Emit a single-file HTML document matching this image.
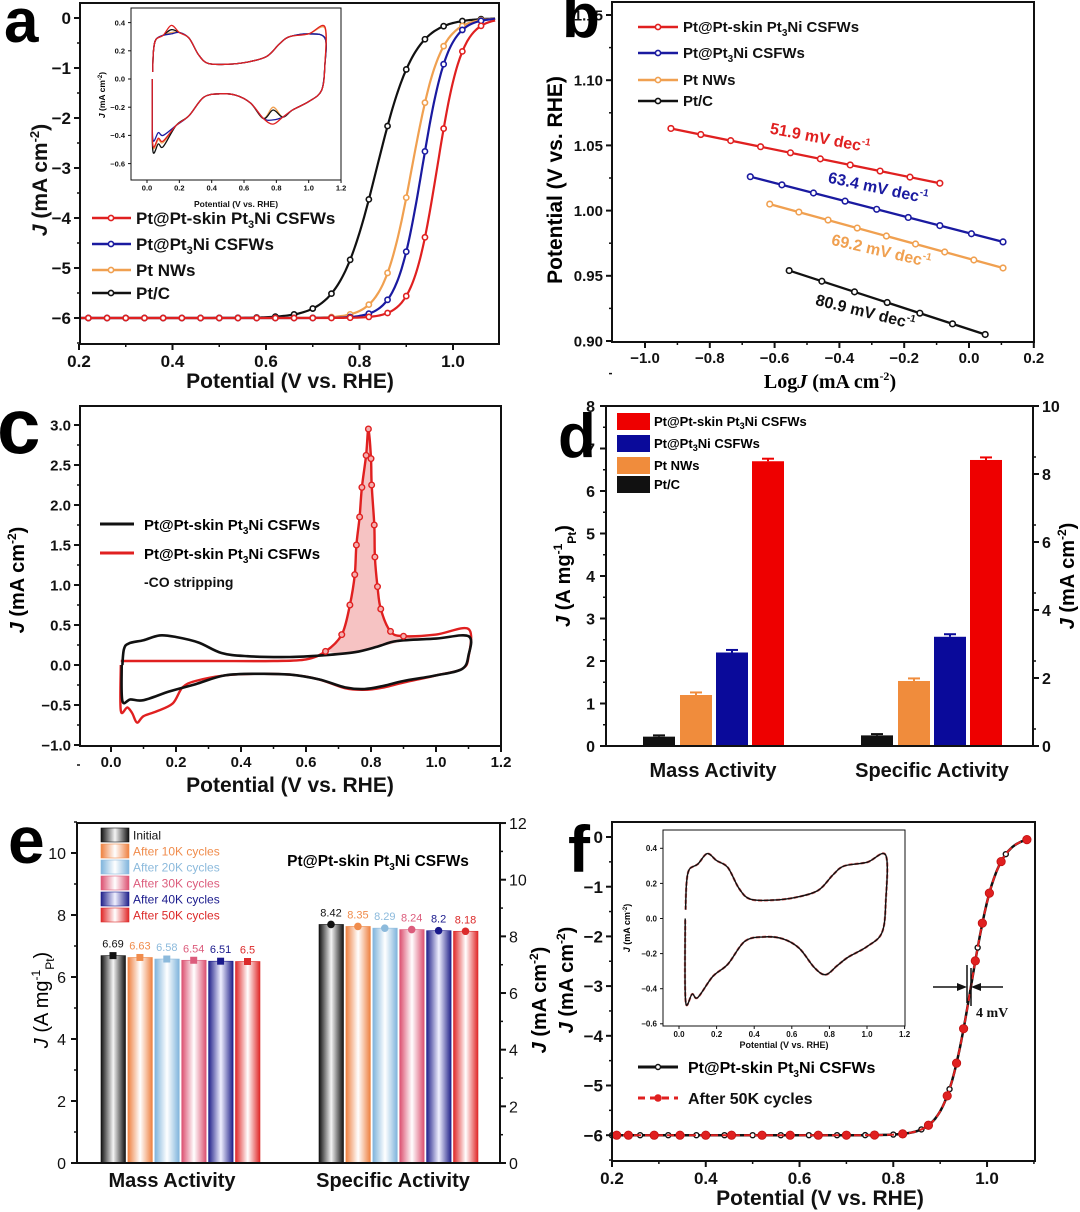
<!DOCTYPE html>
<html><head><meta charset="utf-8">
<style>
html,body{margin:0;padding:0;background:#fff;}
svg{display:block;font-family:"Liberation Sans",Arial,sans-serif;}
</style></head>
<body>
<svg id="s" width="1080" height="1212" viewBox="0 0 1080 1212" xmlns="http://www.w3.org/2000/svg">
<defs>
<linearGradient id="gk" x1="0" x2="1"><stop offset="0" stop-color="#111"/><stop offset="0.5" stop-color="#f4f4f4"/><stop offset="1" stop-color="#111"/></linearGradient>
<linearGradient id="go" x1="0" x2="1"><stop offset="0" stop-color="#ee8040"/><stop offset="0.5" stop-color="#fff"/><stop offset="1" stop-color="#ee8040"/></linearGradient>
<linearGradient id="gb" x1="0" x2="1"><stop offset="0" stop-color="#7fb4dc"/><stop offset="0.5" stop-color="#fff"/><stop offset="1" stop-color="#7fb4dc"/></linearGradient>
<linearGradient id="gp" x1="0" x2="1"><stop offset="0" stop-color="#dc5070"/><stop offset="0.5" stop-color="#fff"/><stop offset="1" stop-color="#dc5070"/></linearGradient>
<linearGradient id="gn" x1="0" x2="1"><stop offset="0" stop-color="#22228a"/><stop offset="0.5" stop-color="#f0f0ff"/><stop offset="1" stop-color="#22228a"/></linearGradient>
<linearGradient id="gr" x1="0" x2="1"><stop offset="0" stop-color="#e02828"/><stop offset="0.5" stop-color="#fff"/><stop offset="1" stop-color="#e02828"/></linearGradient>
</defs>
<g id="g"></g>
</svg>
<script>
var G=document.getElementById('g'),out='';
function a(s){out+=s;}
function txt(x,y,t,o){o=o||{};a('<text x="'+x+'" y="'+y+'" font-size="'+(o.fs||15)+'" font-weight="'+(o.fw||'bold')+'" fill="'+(o.c||'#111')+'" text-anchor="'+(o.an||'middle')+'"'+(o.fam?' font-family="'+o.fam+'"':'')+'>'+t+'</text>');}
function axis(b,xt,xm,yt,ym,o){o=o||{};
 a('<rect x="'+b[0]+'" y="'+b[1]+'" width="'+(b[2]-b[0])+'" height="'+(b[3]-b[1])+'" fill="none" stroke="#111" stroke-width="'+(o.sw||2)+'"/>');
 var fs=o.fs||15;
 xt.forEach(function(t){var x=xm(t);a('<line x1="'+x+'" y1="'+b[3]+'" x2="'+x+'" y2="'+(b[3]+(o.tl||6))+'" stroke="#111" stroke-width="'+(o.sw||2)+'"/>');
  txt(x,b[3]+fs+(o.xg||6),o.xf?o.xf(t):t,{fs:fs});
  if(o.mx){var x2=xm(t+o.mx);if(x2<b[2])a('<line x1="'+x2+'" y1="'+b[3]+'" x2="'+x2+'" y2="'+(b[3]+3)+'" stroke="#111" stroke-width="1.5"/>');}});
 yt.forEach(function(t){var y=ym(t);a('<line x1="'+(b[0]-(o.tl||6))+'" y1="'+y+'" x2="'+b[0]+'" y2="'+y+'" stroke="#111" stroke-width="'+(o.sw||2)+'"/>');
  txt(b[0]-(o.tl||6)-3,y+fs*0.36,o.yf?o.yf(t):t,{fs:fs,an:'end'});
  if(o.my){var y2=ym(t+o.my);if(y2>b[1])a('<line x1="'+(b[0]-3)+'" y1="'+y2+'" x2="'+b[0]+'" y2="'+y2+'" stroke="#111" stroke-width="1.5"/>');}});
}
function cr(P){var d='M'+P[0][0].toFixed(1)+','+P[0][1].toFixed(1);
 for(var i=0;i<P.length-1;i++){var p0=P[i-1]||P[i],p1=P[i],p2=P[i+1],p3=P[i+2]||p2;
  d+='C'+(p1[0]+(p2[0]-p0[0])/6).toFixed(1)+','+(p1[1]+(p2[1]-p0[1])/6).toFixed(1)+' '+(p2[0]-(p3[0]-p1[0])/6).toFixed(1)+','+(p2[1]-(p3[1]-p1[1])/6).toFixed(1)+' '+p2[0].toFixed(1)+','+p2[1].toFixed(1);}
 return d;}
function mp(pts,xm,ym){return pts.map(function(p){return [xm(p[0]),ym(p[1])];});}
function fmt1(t){return t<0?'\u2212'+(-t).toFixed(1):t.toFixed(1);}
function fmt2(t){return t.toFixed(2);}
function fmt0(t){return t<0?'\u2212'+(-t):''+t;}
function letter(x,y,t,fs){a('<text x="'+x+'" y="'+y+'" font-size="'+fs+'" font-weight="bold" fill="#000">'+t+'</text>');}
function cvShape(k){k=k||{};var pk=k.pk||0.37,lo=k.lo||-0.32,end=k.end||0.36,hs=k.hs||0.28,bot=k.bot||-0.45;
 return [[0.035,0.05],[0.04,0.2],[0.055,hs],[0.1,0.31],[0.15,pk],[0.2,0.33],[0.26,0.29],[0.32,0.17],[0.38,0.11],[0.5,0.105],[0.62,0.12],[0.74,0.16],[0.82,0.25],[0.88,0.3],[1.0,0.32],[1.1,end],[1.1,0.1],[1.08,-0.08],[1.0,-0.16],[0.9,-0.22],[0.84,-0.27],[0.78,lo],[0.72,-0.28],[0.64,-0.17],[0.55,-0.115],[0.45,-0.105],[0.35,-0.13],[0.26,-0.26],[0.18,-0.33],[0.1,bot],[0.07,bot+0.02],[0.035,bot-0.02],[0.033,0.0]];}
// ========== Panel a ==========
(function(){var b=[80,3,499,344];var xm=function(v){return 79+(v-0.2)*467.5},ym=function(j){return 18-j*50};
 var cols=[['#111',0.837,0.04],['#f0a050',0.912,0.03],['#1a1aa0',0.934,0.027],['#e02020',0.966,0.026]];
 cols.forEach(function(c){var P=[];for(var v=0.2;v<=1.095;v+=0.01){var J=-6/(1+Math.exp((v-c[1])/c[2]));P.push([v,J]);}
  a('<path d="'+cr(mp(P,xm,ym))+'" fill="none" stroke="'+c[0]+'" stroke-width="2.2"/>');
  for(var v=0.22;v<=1.09;v+=0.04){var J=-6/(1+Math.exp((v-c[1])/c[2]));a('<circle cx="'+xm(v)+'" cy="'+ym(J)+'" r="2.6" fill="#fff" stroke="'+c[0]+'" stroke-width="1.6"/>');}
 });
 axis(b,[0.2,0.4,0.6,0.8,1.0],xm,[0,-1,-2,-3,-4,-5,-6],ym,{fs:17,xf:fmt1,yf:fmt0,mx:0.1,my:-0.5});
 letter(4,42,'a',62);
 txt(290,388,'Potential (V vs. RHE)',{fs:21});
 a('<text transform="translate(47,180) rotate(-90)" font-size="21" font-weight="bold" text-anchor="middle" fill="#111"><tspan font-style="italic">J</tspan> (mA cm<tspan font-size="13" dy="-8">-2</tspan><tspan dy="8">)</tspan></text>');
 var ixm=function(v){return 147+v*161.7},iym=function(j){return 79-j*141};
 a('<rect x="131" y="8" width="210" height="172" fill="#fff"/>');
 var ic=[['#f0a050',{pk:0.33,lo:-0.2,end:0.36,bot:-0.45}],['#111',{pk:0.35,lo:-0.22,end:0.29,bot:-0.48}],['#1a1aa0',{pk:0.32,lo:-0.29,end:0.29,bot:-0.4}],['#e02020',{pk:0.38,lo:-0.32,end:0.37,bot:-0.44}]];
 ic.forEach(function(c){a('<path d="'+cr(mp(cvShape(c[1]),ixm,iym))+'" fill="none" stroke="'+c[0]+'" stroke-width="1.3"/>');});
 axis([131,8,341,180],[0,0.2,0.4,0.6,0.8,1.0,1.2],ixm,[0.4,0.2,0,-0.2,-0.4,-0.6],iym,{fs:7.5,sw:1,tl:3,xg:3,xf:fmt1,yf:fmt1});
 txt(236,207,'Potential (V vs. RHE)',{fs:8.5});
 a('<text transform="translate(105,95) rotate(-90)" font-size="8.5" font-weight="bold" text-anchor="middle"><tspan font-style="italic">J</tspan> (mA cm<tspan font-size="6" dy="-3">-2</tspan><tspan dy="3">)</tspan></text>');
 var L=[['#e02020','Pt@Pt-skin Pt<tspan font-size="11" dy="4">3</tspan><tspan dy="-4">Ni CSFWs</tspan>',218],['#1a1aa0','Pt@Pt<tspan font-size="11" dy="4">3</tspan><tspan dy="-4">Ni CSFWs</tspan>',244],['#f0a050','Pt NWs',270],['#111','Pt/C',293]];
 L.forEach(function(l){a('<line x1="92" y1="'+l[2]+'" x2="131" y2="'+l[2]+'" stroke="'+l[0]+'" stroke-width="2.5"/><circle cx="111" cy="'+l[2]+'" r="2.6" fill="#fff" stroke="'+l[0]+'" stroke-width="1.6"/>');a('<text x="136" y="'+(l[2]+6)+'" font-size="17" font-weight="bold" fill="#111">'+l[1]+'</text>');});
})();
// ========== Panel b ==========
(function(){var b=[612,2,1034,342];var xm=function(v){return 969+v*324},ym=function(p){return 341-(p-0.9)*1304};
 axis(b,[-1.0,-0.8,-0.6,-0.4,-0.2,0.0,0.2],xm,[1.15,1.10,1.05,1.00,0.95,0.90],ym,{fs:15,xf:fmt1,yf:fmt2,mx:0.1,my:-0.025});
 var S=[['#e02020',-0.92,1.063,-0.09,1.021],['#1a1aa0',-0.675,1.026,0.105,0.976],['#f0a050',-0.615,1.005,0.105,0.956],['#111',-0.555,0.954,0.05,0.905]];
 S.forEach(function(s){a('<line x1="'+xm(s[1])+'" y1="'+ym(s[2])+'" x2="'+xm(s[3])+'" y2="'+ym(s[4])+'" stroke="'+s[0]+'" stroke-width="2.3"/>');
  var n=Math.round((s[3]-s[1])/0.095);for(var i=0;i<=n;i++){var t=i/n;a('<circle cx="'+xm(s[1]+t*(s[3]-s[1]))+'" cy="'+ym(s[2]+t*(s[4]-s[2]))+'" r="2.8" fill="#fff" stroke="'+s[0]+'" stroke-width="1.6"/>');}});
 function lab(x,y,r,c,t){a('<text transform="translate('+x+','+y+') rotate('+r+')" font-size="16" font-weight="bold" fill="'+c+'" text-anchor="middle">'+t+' mV dec<tspan font-size="10" dy="-7">-1</tspan></text>');}
 lab(819,143,11,'#e02020','51.9');lab(877,193,12,'#1a1aa0','63.4');lab(880,256,13,'#f0a050','69.2');lab(864,317,14,'#111','80.9');
 var L=[['#e02020','Pt@Pt-skin Pt<tspan font-size="10" dy="4">3</tspan><tspan dy="-4">Ni CSFWs</tspan>',27],['#1a1aa0','Pt@Pt<tspan font-size="10" dy="4">3</tspan><tspan dy="-4">Ni CSFWs</tspan>',53],['#f0a050','Pt NWs',80],['#111','Pt/C',101]];
 L.forEach(function(l){a('<line x1="638" y1="'+l[2]+'" x2="678" y2="'+l[2]+'" stroke="'+l[0]+'" stroke-width="2.5"/><circle cx="658" cy="'+l[2]+'" r="2.6" fill="#fff" stroke="'+l[0]+'" stroke-width="1.6"/>');a('<text x="683" y="'+(l[2]+5)+'" font-size="15" font-weight="bold" fill="#111">'+l[1]+'</text>');});
 letter(562,37,'b',62);
 a('<text x="830" y="388" font-size="20" font-weight="bold" text-anchor="middle" font-family="Liberation Serif,serif">Log<tspan font-style="italic">J</tspan> (mA cm<tspan font-size="12" dy="-8">-2</tspan><tspan dy="8">)</tspan></text>');
 a('<text transform="translate(562,180) rotate(-90)" font-size="21" font-weight="bold" text-anchor="middle">Potential (V vs. RHE)</text>');
})();
// ========== Panel c ==========
(function(){var b=[80,406,501,746];var xm=function(v){return 111+v*325},ym=function(j){return 665-j*80};
 var blk=[[0.035,0.0],[0.04,0.2],[0.055,0.27],[0.1,0.31],[0.15,0.37],[0.2,0.35],[0.27,0.28],[0.34,0.15],[0.42,0.11],[0.55,0.1],[0.65,0.12],[0.75,0.16],[0.82,0.23],[0.88,0.3],[1.0,0.33],[1.1,0.36],[1.1,0.12],[1.08,-0.05],[1.0,-0.13],[0.9,-0.2],[0.84,-0.26],[0.78,-0.3],[0.72,-0.28],[0.64,-0.18],[0.55,-0.12],[0.45,-0.11],[0.35,-0.13],[0.26,-0.24],[0.18,-0.33],[0.1,-0.44],[0.06,-0.43],[0.035,-0.45],[0.033,0.0]];
 var pk=[[0.6,0.07],[0.66,0.17],[0.71,0.38],[0.735,0.75],[0.75,1.13],[0.755,1.5],[0.765,1.85],[0.772,2.22],[0.785,2.62],[0.792,2.95],[0.8,2.58],[0.802,2.25],[0.81,1.75],[0.812,1.35],[0.82,0.98],[0.83,0.7],[0.86,0.42],[0.9,0.36],[1.0,0.38],[1.1,0.45]];
 var fl=mp(pk.slice(1,19),xm,ym);var fd=cr(fl)+'L'+xm(0.9)+','+ym(0.3)+'L'+xm(0.8)+','+ym(0.2)+'L'+xm(0.7)+','+ym(0.14)+'Z';
 a('<path d="'+fd+'" fill="#f4b8b8" opacity="0.85"/>');
 var red=[[0.03,0.05],[0.3,0.05],[0.5,0.05]].concat(pk).concat([[1.1,0.1],[1.08,-0.05],[1.0,-0.13],[0.9,-0.22],[0.84,-0.28],[0.78,-0.31],[0.72,-0.29],[0.64,-0.18],[0.55,-0.12],[0.45,-0.11],[0.35,-0.13],[0.26,-0.2],[0.22,-0.28],[0.19,-0.48],[0.14,-0.58],[0.1,-0.64],[0.08,-0.72],[0.065,-0.6],[0.05,-0.53],[0.03,-0.57],[0.03,0.0]]);
 a('<path d="'+cr(mp(red,xm,ym))+'" fill="none" stroke="#e02020" stroke-width="2.4"/>');
 a('<path d="'+cr(mp(blk,xm,ym))+'" fill="none" stroke="#111" stroke-width="2.6"/>');
 pk.forEach(function(p){if(p[0]>=0.66&&p[0]<=0.9)a('<circle cx="'+xm(p[0])+'" cy="'+ym(p[1])+'" r="2.8" fill="#f4b0b0" stroke="#e02020" stroke-width="1.4"/>');});
 axis(b,[0,0.2,0.4,0.6,0.8,1.0,1.2],xm,[3.0,2.5,2.0,1.5,1.0,0.5,0,-0.5,-1.0],ym,{fs:15,xf:fmt1,yf:fmt1,mx:0.1,my:-0.25});
 a('<line x1="100" y1="524" x2="134" y2="524" stroke="#111" stroke-width="3"/><line x1="100" y1="553" x2="134" y2="553" stroke="#e02020" stroke-width="3"/>');
 a('<text x="144" y="530" font-size="15" font-weight="bold">Pt@Pt-skin Pt<tspan font-size="10" dy="4">3</tspan><tspan dy="-4">Ni CSFWs</tspan></text>');
 a('<text x="144" y="559" font-size="15" font-weight="bold">Pt@Pt-skin Pt<tspan font-size="10" dy="4">3</tspan><tspan dy="-4">Ni CSFWs</tspan></text>');
 txt(144,587,'-CO stripping',{fs:14,an:'start'});
 letter(-3,453,'c',78);
 txt(290,792,'Potential (V vs. RHE)',{fs:21});
 a('<text transform="translate(24,580) rotate(-90)" font-size="20" font-weight="bold" text-anchor="middle"><tspan font-style="italic">J</tspan> (mA cm<tspan font-size="12" dy="-8">-2</tspan><tspan dy="8">)</tspan></text>');
})();
// ========== Panel d ==========
(function(){var ym=function(v){return 746-v*42.5};
 var bars=[[643,0.22,'#111'],[680,1.2,'#f08c3c'],[716,2.2,'#0a0a9a'],[752,6.7,'#ee0000'],[861,0.25,'#111'],[898,1.53,'#f08c3c'],[934,2.57,'#0a0a9a'],[970,6.73,'#ee0000']];
 bars.forEach(function(r){var e=r[1]>1?0.06:0.03;a('<rect x="'+r[0]+'" y="'+ym(r[1])+'" width="32" height="'+(r[1]*42.5)+'" fill="'+r[2]+'"/>');
  a('<line x1="'+(r[0]+16)+'" y1="'+ym(r[1]+e)+'" x2="'+(r[0]+16)+'" y2="'+ym(r[1])+'" stroke="'+r[2]+'" stroke-width="2"/><line x1="'+(r[0]+10)+'" y1="'+ym(r[1]+e)+'" x2="'+(r[0]+22)+'" y2="'+ym(r[1]+e)+'" stroke="'+r[2]+'" stroke-width="2"/>');});
 a('<rect x="606" y="406" width="427" height="340" fill="none" stroke="#111" stroke-width="2"/>');
 for(var v=0;v<=8;v++){var y=ym(v);a('<line x1="600" y1="'+y+'" x2="606" y2="'+y+'" stroke="#111" stroke-width="2"/>');txt(595,y+6,''+v,{fs:16,an:'end'});if(v<8)a('<line x1="603" y1="'+ym(v+0.5)+'" x2="606" y2="'+ym(v+0.5)+'" stroke="#111" stroke-width="1.5"/>');}
 for(var v=0;v<=10;v+=2){var y=746-v*34;a('<line x1="1033" y1="'+y+'" x2="1039" y2="'+y+'" stroke="#111" stroke-width="2"/>');txt(1042,y+6,''+v,{fs:16,an:'start'});if(v<10)a('<line x1="1033" y1="'+(y-17)+'" x2="1036" y2="'+(y-17)+'" stroke="#111" stroke-width="1.5"/>');}
 var L=[['#ee0000','Pt@Pt-skin Pt<tspan font-size="9" dy="3">3</tspan><tspan dy="-3">Ni CSFWs</tspan>',413],['#0a0a9a','Pt@Pt<tspan font-size="9" dy="3">3</tspan><tspan dy="-3">Ni CSFWs</tspan>',435],['#f08c3c','Pt NWs',457],['#111','Pt/C',476]];
 L.forEach(function(l){a('<rect x="617" y="'+l[2]+'" width="33" height="17" fill="'+l[0]+'"/><text x="654" y="'+(l[2]+13)+'" font-size="13" font-weight="bold">'+l[1]+'</text>');});
 txt(713,777,'Mass Activity',{fs:20});txt(932,777,'Specific Activity',{fs:20});
 letter(558,457,'d',62);
 a('<text transform="translate(570,576) rotate(-90)" font-size="20" font-weight="bold" text-anchor="middle"><tspan font-style="italic">J</tspan> (A mg<tspan font-size="12" dy="-8">-1</tspan><tspan font-size="12" dy="14">Pt</tspan><tspan dy="-6">)</tspan></text>');
 a('<text transform="translate(1074,576) rotate(-90)" font-size="20" font-weight="bold" text-anchor="middle"><tspan font-style="italic">J</tspan> (mA cm<tspan font-size="12" dy="-8">-2</tspan><tspan dy="8">)</tspan></text>');
})();
// ========== Panel e ==========
(function(){var ym=function(v){return 1163-v*31},yr=function(v){return 1163-v*28.33};
 var g=['gk','go','gb','gp','gn','gr'],col=['#111','#f08c4c','#8cbadc','#dc5c7c','#1a1a8c','#dc2a2a'];
 var mv=[6.69,6.63,6.58,6.54,6.51,6.5],sv=[8.42,8.35,8.29,8.24,8.2,8.18],ml=['6.69','6.63','6.58','6.54','6.51','6.5'],sl=['8.42','8.35','8.29','8.24','8.2','8.18'];
 for(var i=0;i<6;i++){var x=101+i*26.9;a('<rect x="'+x+'" y="'+ym(mv[i])+'" width="24.5" height="'+(mv[i]*31)+'" fill="url(#'+g[i]+')" stroke="'+col[i]+'" stroke-width="0.6"/>');
  a('<rect x="'+(x+8.5)+'" y="'+(ym(mv[i])-3.5)+'" width="7" height="7" fill="'+col[i]+'"/>');
  txt(x+12,ym(mv[i])-8,ml[i],{fs:11,fw:'normal',c:col[i]});
  var x2=319+i*26.9;a('<rect x="'+x2+'" y="'+yr(sv[i])+'" width="24.5" height="'+(sv[i]*28.33)+'" fill="url(#'+g[i]+')" stroke="'+col[i]+'" stroke-width="0.6"/>');
  a('<circle cx="'+(x2+12)+'" cy="'+yr(sv[i])+'" r="3.8" fill="'+col[i]+'"/>');
  txt(x2+12,yr(sv[i])-8,sl[i],{fs:11,fw:'normal',c:col[i]});}
 a('<rect x="77" y="823" width="423" height="340" fill="none" stroke="#111" stroke-width="2"/>');
 for(var v=0;v<=10;v+=2){var y=ym(v);a('<line x1="71" y1="'+y+'" x2="77" y2="'+y+'" stroke="#111" stroke-width="2"/>');txt(66,y+6,''+v,{fs:16,fw:'normal',an:'end'});a('<line x1="74" y1="'+(y-31)+'" x2="77" y2="'+(y-31)+'" stroke="#111" stroke-width="1.5"/>');}
 for(var v=0;v<=12;v+=2){var y=yr(v);a('<line x1="500" y1="'+y+'" x2="506" y2="'+y+'" stroke="#111" stroke-width="2"/>');txt(509,y+6,''+v,{fs:16,fw:'normal',an:'start'});if(v<12)a('<line x1="500" y1="'+(y-28.3)+'" x2="503" y2="'+(y-28.3)+'" stroke="#111" stroke-width="1.5"/>');}
 var ln=['Initial','After 10K cycles','After 20K cycles','After 30K cycles','After 40K cycles','After 50K cycles'];
 for(var i=0;i<6;i++){var y=828+i*16;a('<rect x="101" y="'+y+'" width="28" height="14" fill="url(#'+g[i]+')" stroke="'+col[i]+'" stroke-width="0.6"/>');txt(133,y+11.5,ln[i],{fs:12,fw:'normal',c:i?col[i]:'#111',an:'start'});}
 a('<text x="378" y="866" font-size="15.5" font-weight="bold" text-anchor="middle">Pt@Pt-skin Pt<tspan font-size="10" dy="4">3</tspan><tspan dy="-4">Ni CSFWs</tspan></text>');
 txt(172,1187,'Mass Activity',{fs:20});txt(393,1187,'Specific Activity',{fs:20});
 letter(8,863,'e',66);
 a('<text transform="translate(48,1000) rotate(-90)" font-size="20" font-weight="normal" text-anchor="middle"><tspan font-style="italic">J</tspan> (A mg<tspan font-size="12" dy="-8">-1</tspan><tspan font-size="12" dy="14">Pt</tspan><tspan dy="-6">)</tspan></text>');
 a('<text transform="translate(546,1000) rotate(-90)" font-size="20" font-weight="bold" text-anchor="middle"><tspan font-style="italic">J</tspan> (mA cm<tspan font-size="12" dy="-8">-2</tspan><tspan dy="8">)</tspan></text>');
})();
// ========== Panel f ==========
(function(){var b=[612,822,1035,1161];var xm=function(v){return 612+(v-0.2)*468.8},ym=function(j){return 837-j*49.7};
 function F(v){return -6.02/(1+Math.exp((v-0.966)/0.027))+0.02;}
 var P=[];for(var v=0.2;v<=1.095;v+=0.01){P.push([v,F(v)]);}
 a('<path d="'+cr(mp(P,xm,ym))+'" fill="none" stroke="#111" stroke-width="2.5"/>');
 for(var v=0.2;v<=1.09;v+=0.06){a('<circle cx="'+xm(v)+'" cy="'+ym(F(v))+'" r="2.5" fill="#fff" stroke="#111" stroke-width="1.4"/>');}
 a('<path d="'+cr(mp(P,xm,ym))+'" fill="none" stroke="#e02020" stroke-width="2" stroke-dasharray="7,4"/>');
 var mk=[0.21,0.235,0.29,0.345,0.4,0.455,0.52,0.58,0.64,0.7,0.76,0.82,0.875,0.915,0.935,0.95,0.975,0.99,1.005,1.03,1.085];
 mk.forEach(function(v){a('<circle cx="'+xm(v)+'" cy="'+ym(F(v))+'" r="4.2" fill="#e02020" stroke="#c01010" stroke-width="0.8"/>');});
 axis(b,[0.2,0.4,0.6,0.8,1.0],xm,[0,-1,-2,-3,-4,-5,-6],ym,{fs:17,xf:fmt1,yf:fmt0,mx:0.1,my:-0.5});
 a('<line x1="967" y1="965" x2="967" y2="1003" stroke="#111" stroke-width="1.5"/><line x1="971" y1="968" x2="971" y2="1006" stroke="#111" stroke-width="1.5"/>');
 a('<line x1="933" y1="987" x2="961" y2="987" stroke="#111" stroke-width="1.5"/><polygon points="967,987 957,983 957,991" fill="#111"/>');
 a('<line x1="977" y1="987" x2="1003" y2="987" stroke="#111" stroke-width="1.5"/><polygon points="971,987 981,983 981,991" fill="#111"/>');
 txt(976,1017,'4 mV',{fs:14,an:'start',fam:'Liberation Serif,serif'});
 var ixm=function(v){return 679+v*188},iym=function(j){return 918.5-j*175.5};
 a('<rect x="663" y="830" width="242" height="196" fill="#fff"/>');
 var sh=cvShape({pk:0.37,lo:-0.32,end:0.36,bot:-0.45});
 a('<path d="'+cr(mp(sh,ixm,iym))+'" fill="none" stroke="#e06060" stroke-width="2.2" stroke-dasharray="4,2"/>');
 a('<path d="'+cr(mp(sh,ixm,iym))+'" fill="none" stroke="#111" stroke-width="1.4"/>');
 axis([663,830,905,1026],[0,0.2,0.4,0.6,0.8,1.0,1.2],ixm,[0.4,0.2,0,-0.2,-0.4,-0.6],iym,{fs:8,sw:1,tl:3,xg:3,xf:fmt1,yf:fmt1});
 txt(784,1048,'Potential (V vs. RHE)',{fs:9});
 a('<text transform="translate(630,928) rotate(-90)" font-size="9" font-weight="bold" text-anchor="middle"><tspan font-style="italic">J</tspan> (mA cm<tspan font-size="6" dy="-3">-2</tspan><tspan dy="3">)</tspan></text>');
 a('<line x1="638" y1="1067" x2="678" y2="1067" stroke="#111" stroke-width="3"/><circle cx="658" cy="1067" r="2.5" fill="#fff" stroke="#111" stroke-width="1.4"/>');
 a('<line x1="638" y1="1098" x2="678" y2="1098" stroke="#e02020" stroke-width="3" stroke-dasharray="7,5"/><circle cx="658" cy="1098" r="3.8" fill="#e02020"/>');
 a('<text x="688" y="1073" font-size="16" font-weight="bold">Pt@Pt-skin Pt<tspan font-size="10" dy="4">3</tspan><tspan dy="-4">Ni CSFWs</tspan></text>');
 txt(688,1104,'After 50K cycles',{fs:16,an:'start'});
 letter(568,872,'f',66);
 txt(820,1205,'Potential (V vs. RHE)',{fs:21});
 a('<text transform="translate(573,980) rotate(-90)" font-size="20" font-weight="bold" text-anchor="middle"><tspan font-style="italic">J</tspan> (mA cm<tspan font-size="12" dy="-8">-2</tspan><tspan dy="8">)</tspan></text>');
})();
G.innerHTML=out;
</script>
</body></html>
